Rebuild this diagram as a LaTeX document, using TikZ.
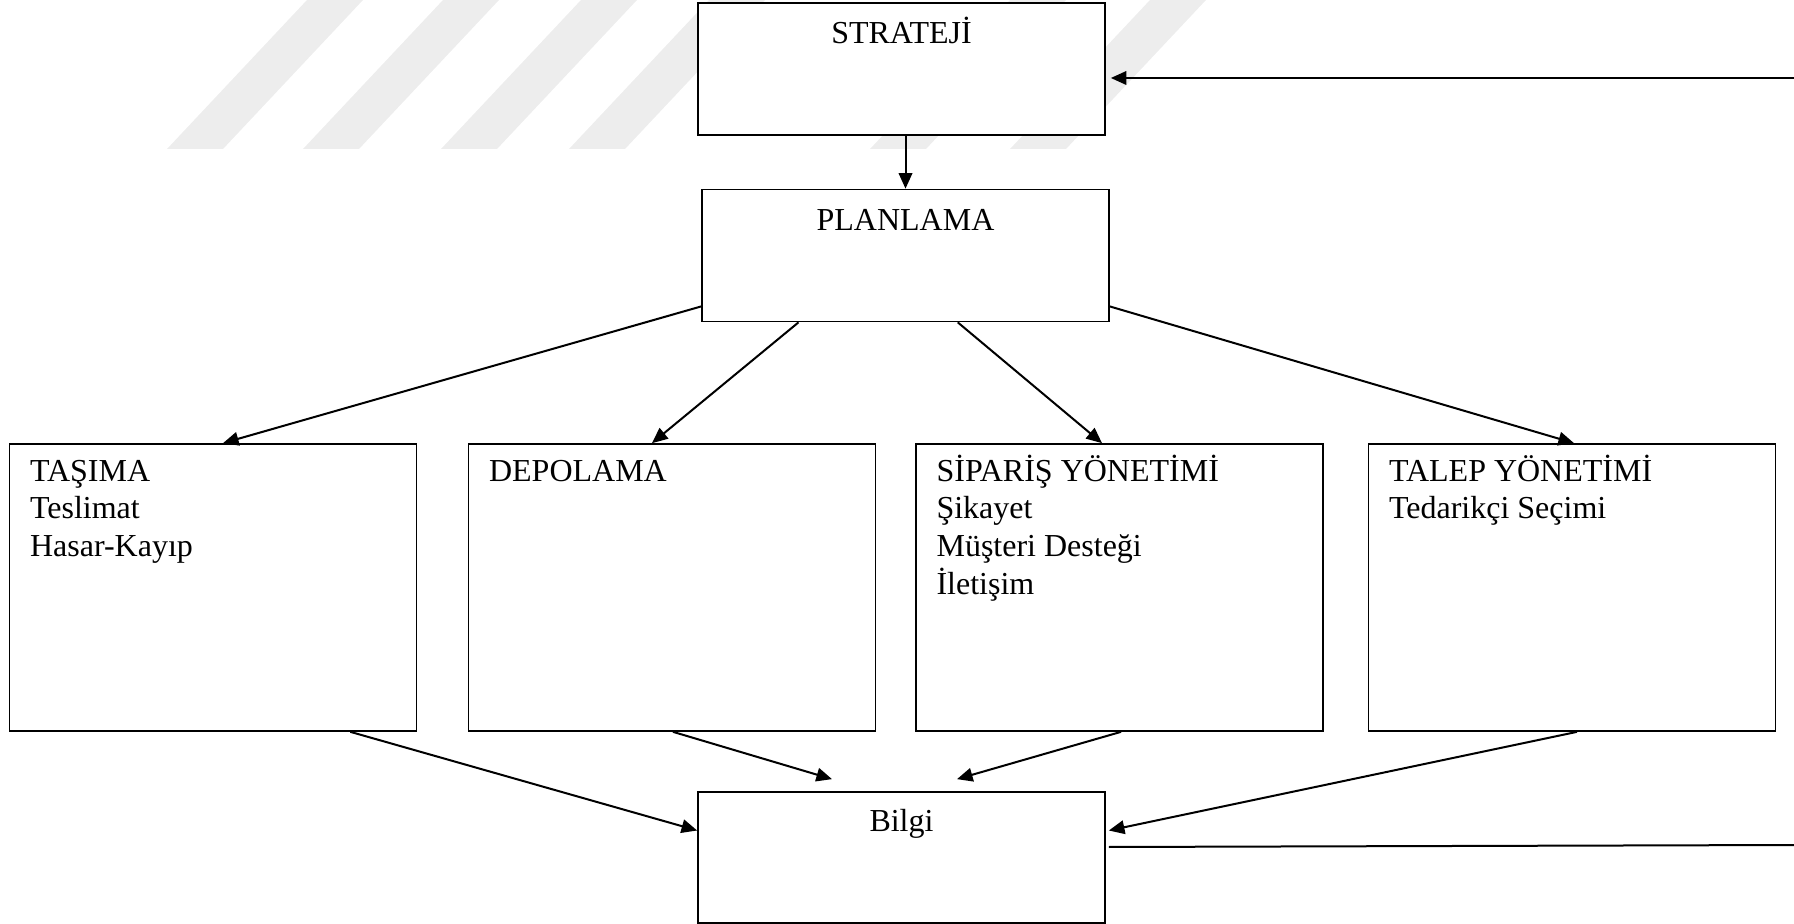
\documentclass[tikz,border=0pt]{standalone}
\usepackage{fontspec}
\setmainfont{Liberation Serif}
\usetikzlibrary{arrows.meta}

\newcommand{\boxlines}[1]{\begin{tabular}[t]{@{}l@{}}#1\end{tabular}}

\begin{document}
\begin{tikzpicture}[x=0.5pt,y=-0.5pt,
    font=\fontsize{16}{18.9}\selectfont,
    box/.style={draw,line width=0.85pt,fill=white,inner sep=0pt,minimum width=203.5pt},
    small box/.style={box,minimum height=66pt},
    tall box/.style={box,minimum height=143.5pt},
    txt/.style={inner sep=0pt},
    link/.style={line width=1pt,-{Triangle[length=7.8pt,width=6.8pt]}}]
  \useasboundingbox (0,0) rectangle (1794,924);
  % faint stripes behind the boxes
  \foreach \b in {167,303,441,569,870,1010}
    \fill[black!7] (\b,149) -- (\b+56,149) -- (\b+196,0) -- (\b+140,0) -- cycle;
  \path (901.5,69)   node[small box] (strateji) {}
        (905.5,255.5) node[small box] (planlama) {}
        (213,587.5)  node[tall box]  (tasima)   {}
        (672,587.5)  node[tall box]  (depolama) {}
        (1119.5,587.5) node[tall box] (siparis) {}
        (1572,587.5) node[tall box]  (talep)    {}
        (901.5,857.5) node[small box,minimum height=65.5pt] (bilgi) {};
  \node[txt,anchor=base] (stratejitext) at ([shift={(0,41)}]strateji.north) {STRATEJİ};
  \node[txt,anchor=base] (planlamatext) at ([shift={(0,42)}]planlama.north) {PLANLAMA};
  \node[txt,anchor=base] (bilgitext) at ([shift={(0,40)}]bilgi.north) {Bilgi};
  \node[txt,anchor=base west] (tasimatext) at ([shift={(21,38)}]tasima.north west)
    {\boxlines{TAŞIMA\\Teslimat\\Hasar-Kayıp}};
  \node[txt,anchor=base west] (depolamatext) at ([shift={(21,38)}]depolama.north west)
    {DEPOLAMA};
  \node[txt,anchor=base west] (siparistext) at ([shift={(21,38)}]siparis.north west)
    {\boxlines{SİPARİŞ YÖNETİMİ\\Şikayet\\Müşteri Desteği\\İletişim}};
  \node[txt,anchor=base west] (taleptext) at ([shift={(21,38)}]talep.north west)
    {\boxlines{TALEP YÖNETİMİ\\Tedarikçi Seçimi}};
  \coordinate (feedin) at (1794,78);
  \coordinate (feedout) at (1794,845);
  % strategy down to planning
  \draw[link] (strateji.south -| planlama.north) -- (planlama.north);
  \draw[link] (feedin) -- ([shift={(5,9)}]strateji.east);
  % planning out to the four areas
  \draw[link] (planlama.194) -- ([shift={(10,0)}]tasima.north);
  \draw[link] (planlama.212) -- ([shift={(-20,0)}]depolama.north);
  \draw[link] (planlama.308) -- ([shift={(-17.5,0)}]siparis.north);
  \draw[link] (planlama.346) -- ([shift={(2,0)}]talep.north);
  % the four areas into information
  \draw[link] ([shift={(-67,0)}]tasima.south east) -- ([shift={(0,-27)}]bilgi.west);
  \draw[link] ([shift={(1,0)}]depolama.south) -- ([shift={(-69.5,-12)}]bilgi.north);
  \draw[link] ([shift={(1.5,0)}]siparis.south) -- ([shift={(55.5,-12)}]bilgi.north);
  \draw[link] ([shift={(5,0)}]talep.south) -- ([shift={(3,-27)}]bilgi.east);
  \draw[line width=1pt] ([shift={(3,-10.5)}]bilgi.east) -- (feedout);
\end{tikzpicture}
\end{document}
